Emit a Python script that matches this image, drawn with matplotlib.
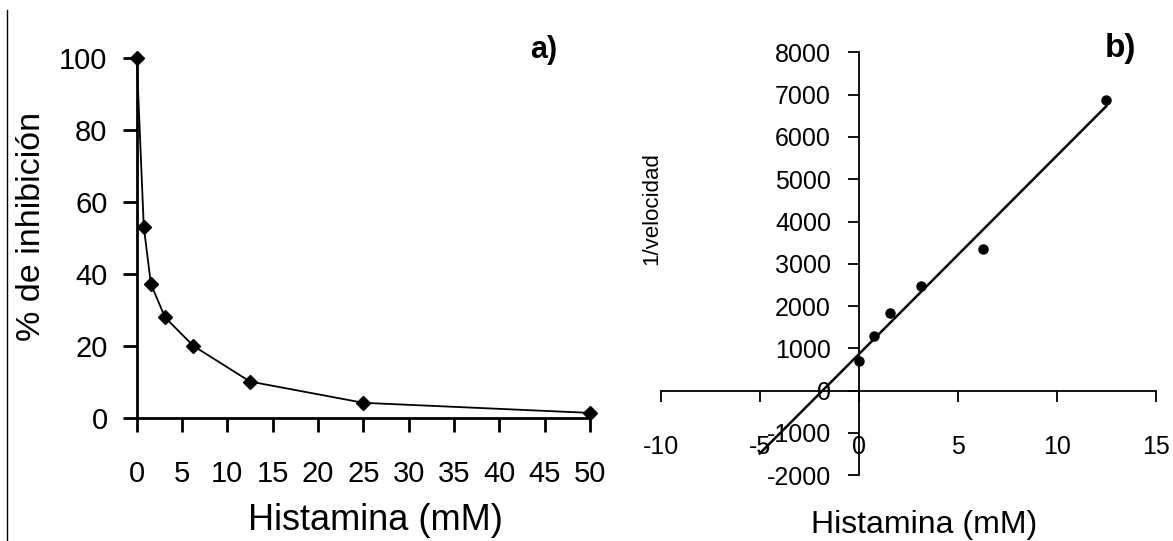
import numpy as np
import matplotlib.pyplot as plt
from matplotlib import font_manager
from matplotlib.lines import Line2D

# datos panel a)
histamina_a = [0, 0.78, 1.5625, 3.125, 6.25, 12.5, 25, 50]
inhibicion = [100, 53.2, 37.3, 28.0, 20.1, 10.2, 4.3, 1.5]

# datos panel b)
histamina_b = [0, 0.78, 1.5625, 3.125, 6.25, 12.5]
inv_velocidad = [692, 1302, 1831, 2482, 3361, 6877]

names = {f.name for f in font_manager.fontManager.ttflist}
narrow = 'Liberation Sans Narrow' if 'Liberation Sans Narrow' in names else None
plt.rcParams['font.family'] = ['Liberation Sans', 'DejaVu Sans']
plt.rcParams['axes.unicode_minus'] = False

W, H = 1173, 541
fig = plt.figure(figsize=(W / 100, H / 100), dpi=100)

# ---- a) ----
ax1 = fig.add_axes([136.7 / W, 1 - 418.3 / H, 453.3 / W, 360.3 / H])
ax1.plot(histamina_a, inhibicion, color='black', lw=1.3, marker='D', ms=7.5,
         clip_on=False, zorder=3)
ax1.set_xlim(0, 50)
ax1.set_ylim(0, 100)
ax1.set_xticks(range(0, 51, 5))
ax1.set_yticks(range(0, 101, 20))
for s in ['top', 'right']:
    ax1.spines[s].set_visible(False)
for s in ['left', 'bottom']:
    ax1.spines[s].set_linewidth(2)
ax1.tick_params(axis='both', direction='out', length=10, width=2)
ax1.tick_params(axis='x', pad=20)
ax1.tick_params(axis='y', pad=11)
for lab in ax1.get_xticklabels() + ax1.get_yticklabels():
    if narrow:
        lab.set_fontfamily(narrow)
        lab.set_fontsize(22)
    else:
        lab.set_fontsize(21)
fig.text(544 / W, 1 - 50 / H, 'a)', ha='center', va='center', fontsize=22,
         fontweight='bold')
fig.text(32 / W, 1 - 226 / H, '% de inhibición', rotation=90, ha='center',
         va='center', fontsize=24.5)
fig.text(375 / W, 1 - 520 / H, 'Histamina (mM)', ha='center', va='center',
         fontsize=26)

# ---- b) ----
ax2 = fig.add_axes([660.7 / W, 1 - 475.3 / H, 495.3 / W, 423 / H])
pend, orden = np.polyfit(histamina_b, inv_velocidad, 1)
xr = np.array([-5, 12.5])
ax2.plot(xr, pend * xr + orden, color='black', lw=1.8)
ax2.plot(histamina_b, inv_velocidad, 'o', color='black', ms=6.5, zorder=3)
ax2.set_xlim(-10, 15)
ax2.set_ylim(-2000, 8000)
ax2.set_xticks(range(-10, 16, 5))
ax2.set_yticks(range(-2000, 8001, 1000))
for s in ['top', 'right']:
    ax2.spines[s].set_visible(False)
ax2.spines['left'].set_position(('data', 0))
ax2.spines['bottom'].set_position(('data', 0))
for s in ['left', 'bottom']:
    ax2.spines[s].set_linewidth(1.3)
ax2.tick_params(axis='both', direction='out', length=8, width=1.3)
ax2.tick_params(axis='x', pad=24)
ax2.tick_params(axis='y', pad=12)
for lab in ax2.get_xticklabels() + ax2.get_yticklabels():
    if narrow:
        lab.set_fontfamily(narrow)
        lab.set_fontsize(20)
    else:
        lab.set_fontsize(18)
fig.text(1120 / W, 1 - 49 / H, 'b)', ha='center', va='center', fontsize=24,
         fontweight='bold')
fig.text(652 / W, 1 - 209 / H, '1/velocidad', rotation=90, ha='center',
         va='center', fontsize=16)
fig.text(924 / W, 1 - 525 / H, 'Histamina (mM)', ha='center', va='center',
         fontsize=23)

# borde izquierdo
fig.add_artist(Line2D([7 / W, 7 / W], [0, 1 - 10 / H], color='black', lw=1,
                      transform=fig.transFigure))

fig.savefig('out.png', dpi=100)
